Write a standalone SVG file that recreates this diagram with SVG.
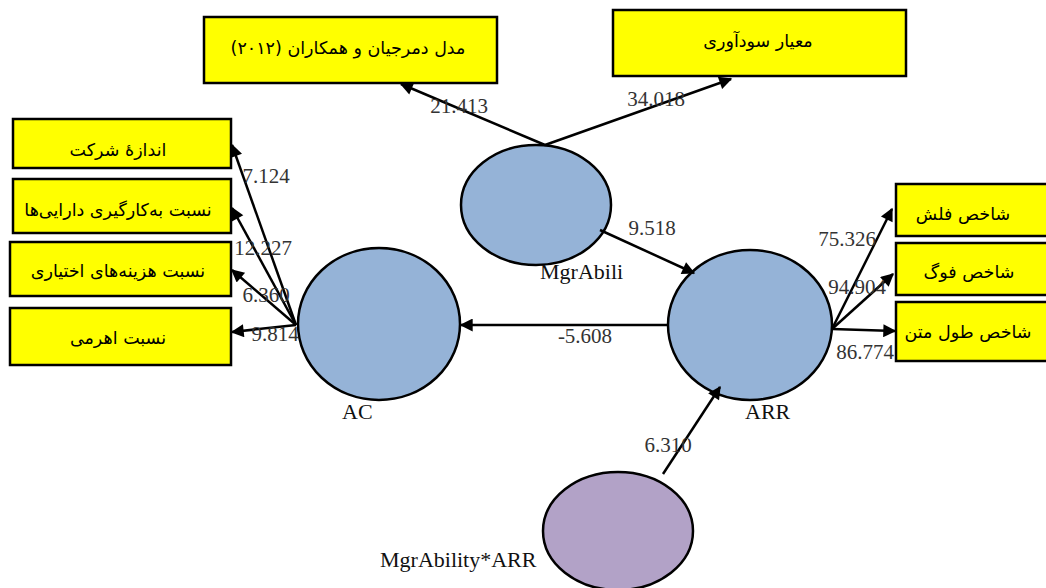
<svg xmlns="http://www.w3.org/2000/svg" width="1046" height="588" viewBox="0 0 1046 588">
<style>
.box{fill:#ffff00;stroke:#000;stroke-width:2.5}
.fa{font-family:"DejaVu Sans","Noto Sans",sans-serif;font-size:17.5px;fill:#000;text-anchor:middle;direction:rtl}
.lat{font-family:"Liberation Serif",serif;font-size:22px;fill:#111}
.num{font-family:"Liberation Serif",serif;font-size:21px;fill:#333;text-anchor:middle}
.ell{stroke:#000;stroke-width:2.5}
.con{stroke:#000;stroke-width:2.5;fill:none;marker-end:url(#ah)}
</style>
<defs>
<marker id="ah" viewBox="0 0 10 10" refX="9" refY="5" markerWidth="6.5" markerHeight="5.2" orient="auto" markerUnits="strokeWidth">
<path d="M0,0 L10,5 L0,10 z" fill="#000"/>
</marker>
</defs>
<rect width="1046" height="588" fill="#fff"/>
<g id="n-demerjian"><rect class="box" x="204" y="17" width="293" height="66"/><text class="fa" x="348" y="54">مدل دمرجیان و همکاران (۲۰۱۲)</text></g>
<g id="n-profit"><rect class="box" x="613" y="10" width="293" height="66"/><text class="fa" x="758" y="47">معیار سودآوری</text></g>
<g id="n-size"><rect class="box" x="13" y="119" width="218" height="49"/><text class="fa" x="118" y="156">اندازهٔ شرکت</text></g>
<g id="n-asset"><rect class="box" x="13" y="179" width="218" height="54"/><text class="fa" x="118" y="216">نسبت به‌کارگیری دارایی‌ها</text></g>
<g id="n-cost"><rect class="box" x="10" y="242" width="221" height="54"/><text class="fa" x="118" y="277">نسبت هزینه‌های اختیاری</text></g>
<g id="n-lev"><rect class="box" x="10" y="308" width="221" height="57"/><text class="fa" x="118" y="344">نسبت اهرمی</text></g>
<g id="n-fog1"><rect class="box" x="896" y="184" width="155" height="52"/><text class="fa" x="963" y="220">شاخص فلش</text></g>
<g id="n-fog2"><rect class="box" x="896" y="243" width="155" height="52"/><text class="fa" x="969" y="278">شاخص فوگ</text></g>
<g id="n-fog3"><rect class="box" x="896" y="302" width="155" height="59"/><text class="fa" x="968" y="338">شاخص طول متن</text></g>
<g id="n-mgrabili"><ellipse class="ell" cx="536" cy="205" rx="75" ry="60" fill="#95b3d7"/><text class="lat" x="540" y="279">MgrAbili</text></g>
<g id="n-ac"><ellipse class="ell" cx="379" cy="324" rx="81" ry="76" fill="#95b3d7"/><text class="lat" x="342" y="419">AC</text></g>
<g id="n-arr"><ellipse class="ell" cx="750" cy="325" rx="82" ry="75" fill="#95b3d7"/><text class="lat" x="745" y="419">ARR</text></g>
<g id="n-mod"><ellipse class="ell" cx="618" cy="531" rx="75" ry="59" fill="#b2a2c7"/><text class="lat" x="380" y="567">MgrAbility*ARR</text></g>
<g id="connectors">
<line class="con" x1="545" y1="145" x2="401" y2="84"/>
<line class="con" x1="545" y1="145" x2="731" y2="79"/>
<line class="con" x1="600" y1="230" x2="694" y2="273"/>
<line class="con" x1="668" y1="325" x2="461" y2="325"/>
<line class="con" x1="663" y1="474" x2="720" y2="387"/>
<line class="con" x1="296" y1="325" x2="232" y2="145"/>
<line class="con" x1="296" y1="325" x2="232" y2="208"/>
<line class="con" x1="296" y1="325" x2="232" y2="270"/>
<line class="con" x1="296" y1="325" x2="232" y2="332"/>
<line class="con" x1="832" y1="329" x2="892" y2="209"/>
<line class="con" x1="832" y1="329" x2="893" y2="274"/>
<line class="con" x1="832" y1="329" x2="895" y2="331"/>
</g>
<g id="labels">
<text class="num" x="459" y="113">21.413</text>
<text class="num" x="656" y="106">34.018</text>
<text class="num" x="652" y="235">9.518</text>
<text class="num" x="585" y="343">-5.608</text>
<text class="num" x="668" y="452">6.310</text>
<text class="num" x="266" y="183">7.124</text>
<text class="num" x="263" y="255">12.227</text>
<text class="num" x="266" y="302">6.360</text>
<text class="num" x="275" y="341">9.814</text>
<text class="num" x="847" y="246">75.326</text>
<text class="num" x="857" y="294">94.904</text>
<text class="num" x="865" y="359">86.774</text>
</g>
</svg>
